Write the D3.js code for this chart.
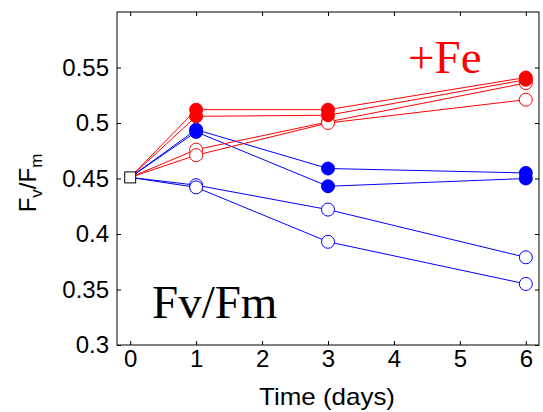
<!DOCTYPE html>
<html>
<head>
<meta charset="utf-8">
<script src="https://cdn.jsdelivr.net/npm/d3@7"></script>
<style>
  body { margin: 0; background: #fff; }
  svg { display: block; }
</style>
</head>
<body>
<div id="chart"></div>
<script>
// days sampled
var days = [0, 1, 3, 6];

// Fv/Fm readings
var redFilledA = [0.451, 0.512, 0.512, 0.541];
var redFilledB = [0.451, 0.506, 0.507, 0.539];
var redOpenA = [0.451, 0.476, 0.501, 0.536];
var redOpenB = [0.451, 0.471, 0.500, 0.521];
var blueFilledA = [0.451, 0.494, 0.459, 0.455];
var blueFilledB = [0.451, 0.492, 0.443, 0.450];
var blueOpenA = [0.451, 0.444, 0.422, 0.379];
var blueOpenB = [0.451, 0.442, 0.393, 0.355];

var xTicks = [0, 1, 2, 3, 4, 5, 6];
var yTicks = [0.3, 0.35, 0.4, 0.45, 0.5, 0.55];

var series = [
    {vals: blueOpenA, color: '#0000ff', filled: false},
    {vals: blueOpenB, color: '#0000ff', filled: false},
    {vals: blueFilledA, color: '#0000ff', filled: true},
    {vals: blueFilledB, color: '#0000ff', filled: true},
    {vals: redOpenA, color: '#ff0000', filled: false},
    {vals: redOpenB, color: '#ff0000', filled: false},
    {vals: redFilledA, color: '#ff0000', filled: true},
    {vals: redFilledB, color: '#ff0000', filled: true}
];

var svgWidth = 543;
var svgHeight = 412;
var margin = {top: 12, bottom: 67, left: 117, right: 4};
var width = svgWidth - margin.left - margin.right;
var height = svgHeight - margin.top - margin.bottom;

var svg = d3.select('#chart')
    .append('svg')
    .attr('width', svgWidth)
    .attr('height', svgHeight);

var g = svg.append('g')
    .attr('transform', `translate(${margin.left},${margin.top})`);

var x = d3.scaleLinear().domain([-0.2, 6.2]).range([0, width]);
var y = d3.scaleLinear().domain([0.3, 0.6]).range([height, 0]);

var fmt = d => String(+d.toFixed(2));
var tickFont = '"Liberation Sans", Arial, sans-serif';

// box
g.append('rect')
    .attr('width', width)
    .attr('height', height)
    .attr('fill', 'none')
    .attr('stroke', '#000')
    .attr('stroke-width', 1);

var axBottom = g.append('g')
    .attr('transform', `translate(0,${height})`)
    .call(d3.axisBottom(x).tickValues(xTicks).tickSize(-4).tickPadding(5).tickFormat(d3.format('d')));
var axLeft = g.append('g')
    .call(d3.axisLeft(y).tickValues(yTicks).tickSize(-4).tickPadding(8).tickFormat(fmt));
var axTop = g.append('g')
    .call(d3.axisTop(x).tickValues(xTicks).tickSize(-4).tickFormat(''));
var axRight = g.append('g')
    .attr('transform', `translate(${width},0)`)
    .call(d3.axisRight(y).tickValues(yTicks).tickSize(-4).tickFormat(''));

[axBottom, axLeft, axTop, axRight].forEach(a => {
    a.select('.domain').remove();
    a.selectAll('line').attr('stroke', '#000');
    a.selectAll('text')
        .attr('fill', '#000')
        .style('font-family', tickFont)
        .style('font-size', '24px');
});

var line = d3.line()
    .x((d, i) => x(days[i]))
    .y(d => y(d));

series.forEach(s => {
    g.append('path')
        .datum(s.vals)
        .attr('d', line)
        .attr('fill', 'none')
        .attr('stroke', s.color)
        .attr('stroke-width', 1);
});

series.forEach(s => {
    g.selectAll(null)
        .data(s.vals.slice(1))
        .enter()
        .append('circle')
        .attr('cx', (d, i) => x(days[i + 1]))
        .attr('cy', d => y(d))
        .attr('r', s.filled ? 6.5 : 6.5)
        .attr('fill', s.filled ? s.color : '#fff')
        .attr('stroke', s.color)
        .attr('stroke-width', 1);
});

// start marker
g.append('rect')
    .attr('x', x(days[0]) - 5.5)
    .attr('y', y(redOpenA[0]) - 5.5)
    .attr('width', 11)
    .attr('height', 11)
    .attr('fill', '#fff')
    .attr('stroke', '#000')
    .attr('stroke-width', 1);

// annotations
g.append('text')
    .attr('x', 408 - margin.left)
    .attr('y', 73 - margin.top)
    .attr('fill', '#ff0000')
    .style('font-family', '"Liberation Serif", "Times New Roman", serif')
    .style('font-size', '47px')
    .text('+Fe');

g.append('text')
    .attr('x', 152 - margin.left)
    .attr('y', 318 - margin.top)
    .attr('fill', '#000')
    .style('font-family', '"Liberation Serif", "Times New Roman", serif')
    .style('font-size', '47px')
    .text('Fv/Fm');

// axis titles
svg.append('text')
    .attr('x', 327)
    .attr('y', 405)
    .attr('text-anchor', 'middle')
    .attr('textLength', 136)
    .attr('lengthAdjust', 'spacingAndGlyphs')
    .style('font-family', tickFont)
    .style('font-size', '24px')
    .text('Time (days)');

var ylab = svg.append('text')
    .attr('transform', 'translate(36,183) rotate(-90)')
    .attr('text-anchor', 'middle')
    .style('font-family', tickFont)
    .style('font-size', '24px');
ylab.append('tspan').text('F');
ylab.append('tspan').attr('dy', 6).style('font-size', '17px').text('v');
ylab.append('tspan').attr('dy', -6).text('/F');
ylab.append('tspan').attr('dy', 6).style('font-size', '17px').text('m');
</script>
</body>
</html>
